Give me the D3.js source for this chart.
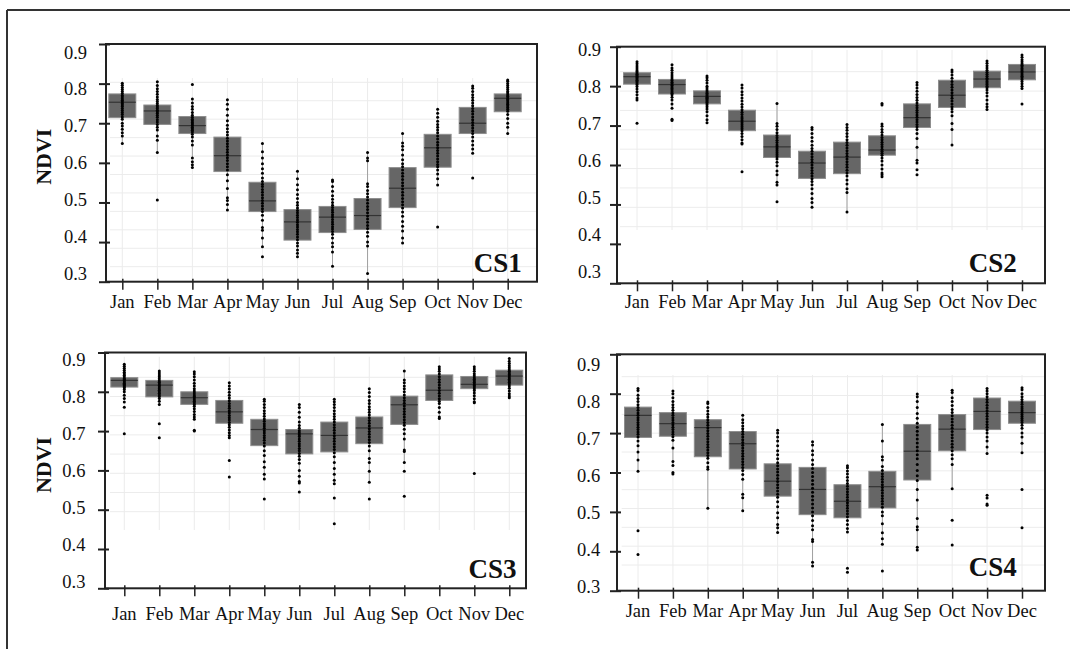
<!DOCTYPE html>
<html>
<head>
<meta charset="utf-8">
<script src="https://cdn.jsdelivr.net/npm/d3@7/dist/d3.min.js"></script>
<style>
  body { margin: 0; background: #fff; }
  svg { display: block; font-family: "Liberation Serif", "DejaVu Serif", serif; }
</style>
</head>
<body>
<svg width="1070" height="649"></svg>
<script>
var months = ["Jan", "Feb", "Mar", "Apr", "May", "Jun", "Jul", "Aug", "Sep", "Oct", "Nov", "Dec"];
var yTicks = [0.3, 0.4, 0.5, 0.6, 0.7, 0.8, 0.9];

// box stats (lower quartile, median, upper quartile)
var cs1Q1 = [.714, .697, .674, .578, .477, .405, .424, .432, .487, .589, .674, .729];
var cs1Med = [.753, .731, .694, .618, .504, .451, .463, .467, .536, .638, .700, .763];
var cs1Q3 = [.774, .746, .717, .665, .551, .482, .490, .510, .588, .672, .740, .774];

var cs2Q1 = [.805, .780, .755, .687, .619, .566, .578, .625, .695, .746, .796, .816];
var cs2Med = [.824, .804, .774, .711, .646, .605, .620, .638, .720, .777, .818, .836];
var cs2Q3 = [.834, .817, .788, .739, .676, .635, .658, .674, .755, .815, .838, .855];

var cs3Q1 = [.812, .787, .768, .720, .663, .642, .647, .668, .717, .778, .808, .817];
var cs3Med = [.829, .817, .785, .749, .704, .693, .689, .708, .767, .804, .819, .840];
var cs3Q3 = [.836, .829, .800, .778, .730, .704, .723, .736, .789, .843, .839, .855];

var cs4Q1 = [.689, .692, .640, .609, .540, .493, .485, .510, .581, .655, .709, .725];
var cs4Med = [.745, .724, .714, .673, .578, .557, .527, .564, .654, .710, .755, .752];
var cs4Q3 = [.766, .752, .734, .704, .622, .613, .569, .603, .722, .747, .789, .781];

// individual observations per month
var cs1Pts = [
    [.801,.796,.790,.785,.780,.775,.770,.766,.762,.758,.754,.750,.746,.742,.737,.732,.727,.722,.716,.710,.700,.693,.685,.676,.668,.649],
    [.805,.795,.787,.780,.773,.766,.760,.755,.750,.745,.741,.737,.733,.729,.725,.720,.715,.709,.703,.697,.690,.683,.668,.657,.626,.506],
    [.798,.761,.751,.742,.735,.727,.720,.715,.710,.706,.702,.698,.694,.690,.686,.682,.678,.672,.665,.655,.645,.612,.603,.595,.588],
    [.759,.748,.735,.720,.706,.695,.686,.678,.670,.662,.655,.648,.641,.634,.627,.620,.613,.606,.598,.590,.582,.570,.555,.535,.512,.505,.495,.481],
    [.649,.628,.612,.598,.585,.574,.562,.553,.546,.540,.533,.526,.519,.512,.505,.498,.491,.484,.477,.468,.455,.437,.430,.410,.388,.363],
    [.579,.560,.545,.532,.520,.510,.500,.493,.486,.480,.474,.468,.462,.456,.450,.444,.438,.432,.426,.420,.413,.406,.398,.390,.380,.372,.363],
    [.557,.553,.540,.528,.517,.508,.500,.493,.487,.481,.475,.469,.463,.457,.451,.445,.439,.433,.427,.420,.410,.398,.388,.375,.339],
    [.626,.612,.605,.547,.540,.530,.522,.514,.506,.498,.490,.482,.474,.466,.458,.450,.442,.434,.425,.415,.400,.390,.321],
    [.674,.650,.642,.633,.620,.608,.598,.590,.582,.574,.566,.558,.550,.542,.534,.526,.518,.510,.502,.494,.486,.476,.465,.452,.440,.428,.410,.398],
    [.735,.725,.715,.705,.697,.690,.683,.676,.668,.660,.652,.645,.638,.631,.624,.617,.610,.603,.596,.590,.582,.572,.560,.544,.438],
    [.794,.788,.780,.772,.765,.758,.751,.744,.737,.730,.723,.716,.709,.702,.695,.688,.681,.674,.665,.655,.645,.635,.624,.562],
    [.809,.806,.800,.795,.790,.785,.780,.776,.772,.768,.764,.760,.756,.752,.748,.744,.740,.735,.730,.722,.712,.700,.690,.674]
];
var cs2Pts = [
    [.862,.857,.851,.846,.841,.837,.833,.830,.827,.824,.821,.818,.815,.812,.808,.804,.799,.793,.786,.778,.770,.765,.706],
    [.854,.846,.840,.834,.828,.823,.818,.814,.810,.806,.802,.798,.794,.790,.786,.782,.778,.772,.765,.755,.744,.716,.713],
    [.826,.821,.815,.808,.800,.795,.790,.786,.782,.778,.775,.772,.769,.766,.763,.760,.757,.753,.748,.742,.735,.725,.715,.707],
    [.803,.795,.786,.778,.770,.762,.754,.747,.740,.734,.728,.722,.717,.712,.707,.702,.697,.692,.687,.680,.672,.664,.656,.653,.583],
    [.756,.705,.698,.690,.682,.675,.669,.663,.657,.651,.646,.641,.636,.631,.626,.621,.615,.607,.598,.585,.575,.556,.549,.507],
    [.695,.690,.680,.670,.660,.650,.642,.635,.628,.621,.614,.607,.600,.593,.586,.579,.572,.565,.558,.550,.540,.528,.515,.505,.493],
    [.703,.695,.688,.680,.672,.664,.657,.650,.643,.636,.629,.622,.615,.608,.601,.594,.587,.580,.572,.562,.552,.540,.530,.481],
    [.756,.752,.704,.698,.690,.683,.676,.670,.664,.658,.652,.646,.640,.635,.630,.625,.618,.610,.600,.590,.580,.575,.570],
    [.809,.803,.795,.787,.779,.771,.764,.757,.751,.745,.739,.733,.727,.721,.715,.709,.703,.697,.690,.680,.667,.645,.612,.605,.588,.575],
    [.841,.836,.828,.820,.812,.804,.797,.790,.783,.776,.769,.762,.755,.748,.742,.735,.725,.705,.690,.651],
    [.864,.858,.852,.846,.840,.835,.830,.825,.820,.816,.812,.808,.804,.800,.796,.790,.783,.775,.765,.755,.748,.741],
    [.879,.873,.867,.862,.857,.853,.849,.845,.841,.837,.833,.829,.825,.821,.817,.812,.806,.800,.794,.755]
];
var cs3Pts = [
    [.870,.865,.860,.855,.850,.846,.842,.838,.834,.831,.828,.825,.822,.819,.816,.813,.810,.806,.800,.791,.783,.774,.761,.693],
    [.853,.848,.843,.838,.833,.828,.824,.820,.816,.812,.808,.804,.800,.796,.792,.788,.783,.776,.768,.719,.683],
    [.851,.845,.838,.830,.822,.815,.808,.802,.797,.792,.788,.784,.780,.776,.772,.768,.763,.757,.750,.742,.736,.730,.702,.700],
    [.823,.815,.807,.799,.791,.784,.777,.770,.764,.758,.752,.746,.740,.734,.728,.722,.716,.710,.703,.696,.689,.683,.625,.583],
    [.781,.776,.768,.760,.752,.745,.738,.731,.725,.719,.713,.707,.701,.695,.689,.683,.677,.670,.662,.650,.638,.622,.608,.590,.578,.527],
    [.768,.760,.748,.735,.723,.714,.707,.701,.696,.691,.686,.680,.674,.668,.662,.656,.650,.643,.636,.628,.618,.600,.585,.572,.568,.545],
    [.781,.775,.768,.760,.752,.744,.737,.730,.723,.716,.709,.702,.695,.688,.681,.674,.667,.660,.653,.645,.635,.620,.605,.590,.575,.566,.530,.464],
    [.808,.798,.788,.778,.770,.762,.755,.748,.741,.734,.727,.720,.713,.706,.699,.692,.685,.678,.671,.662,.650,.630,.620,.598,.570,.527],
    [.853,.830,.823,.815,.808,.800,.792,.785,.778,.771,.764,.757,.750,.743,.736,.729,.722,.715,.705,.693,.680,.652,.648,.620,.598,.534],
    [.864,.858,.852,.845,.838,.831,.824,.817,.810,.803,.796,.789,.782,.776,.770,.760,.748,.736,.732],
    [.864,.858,.852,.846,.841,.836,.832,.828,.824,.820,.816,.812,.808,.803,.797,.790,.782,.775,.772,.592],
    [.885,.878,.872,.866,.861,.856,.852,.848,.844,.840,.836,.832,.828,.824,.820,.815,.809,.802,.795,.789,.785]
];
var cs4Pts = [
    [.813,.808,.796,.788,.780,.772,.765,.758,.751,.745,.739,.733,.727,.721,.715,.709,.703,.697,.690,.680,.668,.652,.632,.603,.452,.392],
    [.807,.800,.790,.780,.772,.765,.758,.751,.745,.739,.733,.727,.721,.715,.709,.703,.697,.691,.682,.662,.628,.618,.600,.596],
    [.779,.775,.765,.756,.748,.741,.734,.727,.720,.713,.706,.699,.692,.685,.678,.671,.664,.657,.650,.643,.636,.625,.614,.608,.509],
    [.745,.734,.726,.718,.711,.704,.697,.690,.683,.676,.669,.662,.655,.648,.641,.634,.627,.620,.613,.605,.595,.583,.545,.536,.503],
    [.707,.700,.690,.680,.668,.655,.645,.635,.625,.617,.609,.601,.593,.585,.577,.569,.561,.553,.545,.537,.526,.513,.498,.485,.468,.460,.448],
    [.678,.670,.655,.645,.632,.620,.610,.600,.590,.580,.570,.560,.550,.540,.530,.520,.510,.500,.490,.478,.465,.455,.430,.425,.372,.363],
    [.617,.612,.604,.596,.588,.580,.572,.565,.558,.551,.544,.537,.530,.523,.516,.509,.502,.495,.488,.478,.468,.458,.449,.357,.347],
    [.722,.680,.640,.632,.615,.605,.597,.590,.583,.576,.569,.562,.555,.548,.541,.534,.527,.520,.512,.500,.490,.470,.447,.432,.418,.350],
    [.799,.792,.780,.765,.750,.738,.725,.715,.705,.695,.685,.675,.665,.655,.645,.635,.620,.605,.592,.580,.557,.530,.483,.462,.455,.410,.403],
    [.809,.803,.790,.780,.770,.760,.752,.744,.736,.728,.720,.712,.704,.696,.688,.680,.672,.664,.655,.645,.635,.620,.559,.479,.416],
    [.813,.807,.800,.792,.785,.778,.771,.764,.757,.750,.743,.736,.729,.722,.715,.708,.700,.690,.680,.665,.648,.542,.535,.520,.517],
    [.815,.810,.800,.792,.785,.779,.773,.767,.762,.757,.752,.747,.742,.737,.732,.727,.720,.712,.700,.690,.674,.650,.557,.460]
];

var svg = d3.select("svg");

// outer frame of the figure (only top and left edges are visible)
svg.append("line").attr("x1", 7).attr("y1", 10).attr("x2", 1070).attr("y2", 10)
    .attr("stroke", "#333").attr("stroke-width", 2);
svg.append("line").attr("x1", 7).attr("y1", 10).attr("x2", 7).attr("y2", 649)
    .attr("stroke", "#333").attr("stroke-width", 2);

var panels = [
    {tag: "CS1", q1: cs1Q1, med: cs1Med, q3: cs1Q3, pts: cs1Pts,
     left: 106, right: 537, top: 44, bottom: 281.7, xFirst: 122.3, xLast: 507.7,
     labTop: 52.3, labBot: 273.3, labRight: 87, monthY: 308.3,
     gridTop: 78, gridBot: 281.7, gridLeft: 110, gridDom: [0.3, 0.8], gridRange: [266.7, 82.3],
     tagX: 521.7, tagY: 271.7, ylab: 156.7},
    {tag: "CS2", q1: cs2Q1, med: cs2Med, q3: cs2Q3, pts: cs2Pts,
     left: 617, right: 1045, top: 46.7, bottom: 283.3, xFirst: 637, xLast: 1022,
     labTop: 50, labBot: 271.7, labRight: 601, monthY: 308.3,
     gridTop: 50, gridBot: 230, gridLeft: 620, gridDom: [0.45, 0.85], gridRange: [226.7, 71.7],
     tagX: 1016.7, tagY: 271.7, ylab: null},
    {tag: "CS3", q1: cs3Q1, med: cs3Med, q3: cs3Q3, pts: cs3Pts,
     left: 105, right: 526, top: 352.5, bottom: 588.3, xFirst: 124.3, xLast: 509.3,
     labTop: 360, labBot: 581.7, labRight: 85.4, monthY: 620,
     gridTop: 356.7, gridBot: 530, gridLeft: 110, gridDom: [0.5, 0.85], gridRange: [511.7, 377.3],
     tagX: 516.5, tagY: 578.3, ylab: 465},
    {tag: "CS4", q1: cs4Q1, med: cs4Med, q3: cs4Q3, pts: cs4Pts,
     left: 617, right: 1045, top: 354.3, bottom: 590.7, xFirst: 638, xLast: 1022,
     labTop: 365, labBot: 586.7, labRight: 600.2, monthY: 616.5,
     gridTop: 375, gridBot: 590.7, gridLeft: 621.7, gridDom: [0.35, 0.85], gridRange: [565, 376.7],
     tagX: 1016.7, tagY: 576, ylab: null}
];

var boxW = 27;

panels.forEach(function (p) {
    var x = d3.scalePoint().domain(months).range([p.xFirst, p.xLast]);
    var y = d3.scaleLinear().domain([0.3, 0.9]).range([p.bottom, p.top]);
    var yLab = d3.scaleLinear().domain([0.3, 0.9]).range([p.labBot, p.labTop]);
    var yGrid = d3.scaleLinear().domain(p.gridDom).range(p.gridRange);

    var g = svg.append("g");

    // faint grid of the inner plot
    var gridVals = d3.range(p.gridDom[0], p.gridDom[1] + 0.001, 0.05);
    g.append("g").selectAll("line")
        .data(gridVals)
        .enter().append("line")
        .attr("x1", p.gridLeft).attr("x2", p.right)
        .attr("y1", function (d) { return yGrid(d); })
        .attr("y2", function (d) { return yGrid(d); })
        .attr("stroke", "#ececec").attr("stroke-width", 1);
    g.append("g").selectAll("line")
        .data(months)
        .enter().append("line")
        .attr("x1", function (d) { return x(d); })
        .attr("x2", function (d) { return x(d); })
        .attr("y1", p.gridTop).attr("y2", p.gridBot)
        .attr("stroke", "#ececec").attr("stroke-width", 1);

    var rows = months.map(function (m, i) {
        var iqr = p.q3[i] - p.q1[i];
        var inside = p.pts[i].filter(function (v) {
            return v >= p.q1[i] - 1.5 * iqr && v <= p.q3[i] + 1.5 * iqr;
        });
        return {month: m, q1: p.q1[i], med: p.med[i], q3: p.q3[i],
                lo: d3.min(inside), hi: d3.max(inside), pts: p.pts[i]};
    });

    // whiskers
    g.append("g").selectAll("line")
        .data(rows)
        .enter().append("line")
        .attr("x1", function (d) { return x(d.month); })
        .attr("x2", function (d) { return x(d.month); })
        .attr("y1", function (d) { return y(d.lo); })
        .attr("y2", function (d) { return y(d.hi); })
        .attr("stroke", "#a0a0a0").attr("stroke-width", 1);

    // boxes
    g.append("g").selectAll("rect")
        .data(rows)
        .enter().append("rect")
        .attr("x", function (d) { return x(d.month) - boxW / 2; })
        .attr("y", function (d) { return y(d.q3); })
        .attr("width", boxW)
        .attr("height", function (d) { return y(d.q1) - y(d.q3); })
        .attr("fill", "#666")
        .attr("stroke", "#8e8e8e").attr("stroke-width", 1);

    // medians
    g.append("g").selectAll("line")
        .data(rows)
        .enter().append("line")
        .attr("x1", function (d) { return x(d.month) - boxW / 2; })
        .attr("x2", function (d) { return x(d.month) + boxW / 2; })
        .attr("y1", function (d) { return y(d.med); })
        .attr("y2", function (d) { return y(d.med); })
        .attr("stroke", "#333").attr("stroke-width", 1.2);

    // observations
    rows.forEach(function (r) {
        g.append("g").selectAll("circle")
            .data(r.pts)
            .enter().append("circle")
            .attr("cx", x(r.month))
            .attr("cy", function (d) { return y(d); })
            .attr("r", 1.5)
            .attr("fill", "#000");
    });

    // panel border
    g.append("rect")
        .attr("x", p.left).attr("y", p.top)
        .attr("width", p.right - p.left).attr("height", p.bottom - p.top)
        .attr("fill", "none").attr("stroke", "#222").attr("stroke-width", 2);

    // tick marks crossing the axes
    var yAxis = g.append("g")
        .attr("transform", "translate(" + (p.left + 4) + ",0)")
        .call(d3.axisLeft(y).tickValues(yTicks).tickSize(11).tickSizeOuter(0).tickFormat(""));
    yAxis.select(".domain").remove();
    yAxis.selectAll("line").attr("stroke", "#222").attr("stroke-width", 2);

    var xAxis = g.append("g")
        .attr("transform", "translate(0," + (p.bottom - 3) + ")")
        .call(d3.axisBottom(x).tickSize(11).tickSizeOuter(0).tickFormat(""));
    xAxis.select(".domain").remove();
    xAxis.selectAll("line").attr("stroke", "#222").attr("stroke-width", 1.5);

    // tick labels
    g.append("g").selectAll("text")
        .data(yTicks)
        .enter().append("text")
        .attr("x", p.labRight)
        .attr("y", function (d) { return yLab(d); })
        .attr("dy", "0.34em")
        .attr("text-anchor", "end")
        .style("font-size", "18.5px")
        .attr("fill", "#111")
        .text(d3.format(".1f"));

    g.append("g").selectAll("text")
        .data(months)
        .enter().append("text")
        .attr("x", function (d) { return x(d); })
        .attr("y", p.monthY)
        .attr("text-anchor", "middle")
        .style("font-size", "18.5px")
        .attr("fill", "#111")
        .text(function (d) { return d; });

    g.append("text")
        .attr("x", p.tagX).attr("y", p.tagY)
        .attr("text-anchor", "end")
        .style("font-size", "27px")
        .style("font-weight", "bold")
        .attr("fill", "#111")
        .text(p.tag);

    if (p.ylab !== null) {
        g.append("text")
            .attr("transform", "translate(51," + p.ylab + ") rotate(-90)")
            .attr("text-anchor", "middle")
            .style("font-size", "22px")
            .style("font-weight", "bold")
            .attr("fill", "#111")
            .text("NDVI");
    }
});
</script>
</body>
</html>
